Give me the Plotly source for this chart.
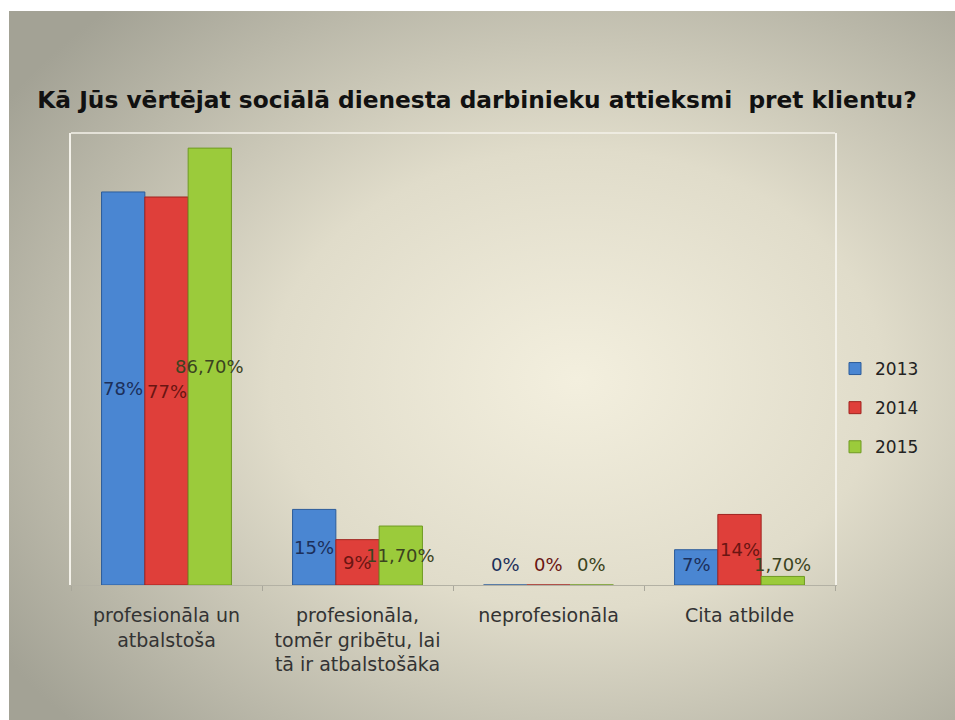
import base64
import plotly.graph_objects as go

# ---- data ----
categories = [
    "profesionāla un<br>atbalstoša",
    "profesionāla,<br>tomēr gribētu, lai<br>tā ir atbalstošāka",
    "neprofesionāla",
    "Cita atbilde",
]
years = ["2013", "2014", "2015"]
values_2013 = [78, 15, 0, 7]
values_2014 = [77, 9, 0, 14]
values_2015 = [86.7, 11.7, 0, 1.7]
labels_2013 = ["78%", "15%", "0%", "7%"]
labels_2014 = ["77%", "9%", "0%", "14%"]
labels_2015 = ["86,70%", "11,70%", "0%", "1,70%"]

series = [values_2013, values_2014, values_2015]
series_labels = [labels_2013, labels_2014, labels_2015]

# ---- styling ----
W, H = 955, 720
L, R, T, B = 71, 120, 133, 135
bar_colors = ["#4a86d2", "#df3f3a", "#9bcb3b"]
bar_lines = ["#2c5c9a", "#a0231f", "#6f9a22"]
label_colors = ["#1c2f5a", "#6a1512", "#3b4320"]
EDGE = "#a9a89b"
BARGAP = 0.32
FONT = "DejaVu Sans"

fig = go.Figure()
for yr, vals, c, lc in zip(years, series, bar_colors, bar_lines):
    fig.add_trace(go.Bar(
        x=categories, y=vals, name=yr,
        marker=dict(color=c, line=dict(color=lc, width=1)),
        legendgroup=yr, hoverinfo="skip",
    ))

# data labels, centred in each bar (with a minimum height for tiny bars)
w = (1 - BARGAP) / len(years)
annotations = []
for j, (vals, labs, col) in enumerate(zip(series, series_labels, label_colors)):
    for i, (v, lab) in enumerate(zip(vals, labs)):
        annotations.append(dict(
            x=i + (j - 1) * w, y=max(v / 2, 4.0), xref="x", yref="y",
            text=lab, showarrow=False,
            font=dict(family=FONT, size=18, color=col),
        ))

# radial gradient background as an SVG image
svg = """<svg xmlns='http://www.w3.org/2000/svg' width='946' height='709' viewBox='0 0 946 709' preserveAspectRatio='none'>
<defs><radialGradient id='g' cx='0.6' cy='0.52' r='0.72'>
<stop offset='0' stop-color='#f3efde'/>
<stop offset='0.45' stop-color='#e0dcca'/>
<stop offset='1' stop-color='#a3a295'/>
</radialGradient></defs>
<rect x='0' y='0' width='946' height='709' fill='url(#g)'/></svg>"""
src = "data:image/svg+xml;base64," + base64.b64encode(svg.encode()).decode()
pw, ph = W - L - R, H - T - B


def px_x(p):
    return (p - L) / pw


def px_y(p):
    return (H - B - p) / ph


bg_x0, bg_y0 = 9, 11
fig.add_layout_image(dict(
    source=src, xref="paper", yref="paper",
    x=px_x(bg_x0), y=px_y(bg_y0),
    sizex=(W - bg_x0) / pw, sizey=(H - bg_y0) / ph,
    xanchor="left", yanchor="top", sizing="stretch", layer="below",
))

# white strips along the top and left edge of the picture
fig.add_shape(type="rect", xref="paper", yref="paper", layer="below",
              x0=px_x(0), x1=px_x(W), y0=px_y(0), y1=px_y(bg_y0),
              fillcolor="white", line=dict(width=0))
fig.add_shape(type="rect", xref="paper", yref="paper", layer="below",
              x0=px_x(0), x1=px_x(bg_x0), y0=px_y(0), y1=px_y(H),
              fillcolor="white", line=dict(width=0))

# light frame line along the top of the plot area
fig.add_shape(type="line", xref="paper", yref="paper", x0=0, x1=1, y0=1, y1=1,
              line=dict(color="#f4f2ea", width=1.5), layer="above")

fig.update_layout(
    width=W, height=H,
    margin=dict(l=L, r=R, t=T, b=B, pad=0),
    paper_bgcolor=EDGE, plot_bgcolor="rgba(0,0,0,0)",
    barmode="group", bargap=BARGAP, bargroupgap=0,
    title=dict(
        text="Kā Jūs vērtējat sociālā dienesta darbinieku attieksmi  pret klientu?",
        x=477 / W, xanchor="center", y=1 - 100 / H, yanchor="middle", yref="container",
        font=dict(family=FONT, size=23.3, color="#111111", weight="bold"),
    ),
    xaxis=dict(
        showline=True, linecolor="#b3b1a4", linewidth=1, mirror=False,
        ticks="outside", tickson="boundaries", ticklen=5, tickcolor="#a9a79b",
        tickfont=dict(family=FONT, size=19, color="#333333"),
        ticklabelstandoff=13,
        showgrid=False, zeroline=False,
    ),
    yaxis=dict(
        range=[0, 89.7], showticklabels=False, showgrid=False, zeroline=False,
        showline=True, linecolor="#f4f2ea", linewidth=1.5, mirror=True, ticks="",
    ),
    legend=dict(
        x=1.0, xanchor="left", y=(H - B - 408) / ph, yanchor="middle",
        font=dict(family=FONT, size=17, color="#222222"),
        bgcolor="rgba(0,0,0,0)", tracegroupgap=14, itemwidth=30,
    ),
    annotations=annotations,
    showlegend=True,
)

fig.write_html(
    "out.html",
    config={"displayModeBar": False},
    post_script=(
        "document.body.style.margin='0';document.body.style.overflow='hidden';"
        f"document.documentElement.style.background='{EDGE}';"
    ),
)
